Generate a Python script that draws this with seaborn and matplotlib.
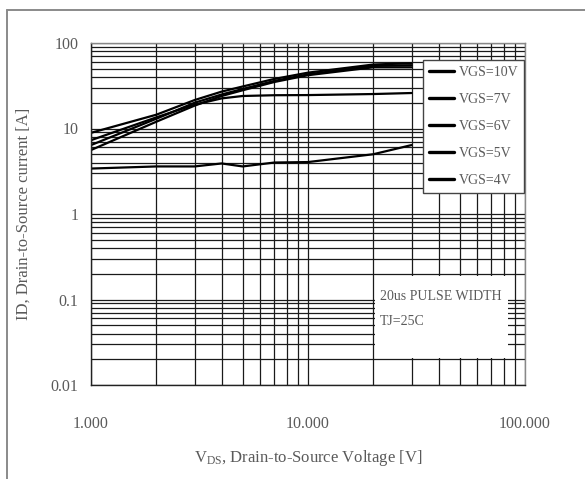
import matplotlib
matplotlib.use("Agg")
import matplotlib.pyplot as plt
from matplotlib.lines import Line2D
from matplotlib.patches import Rectangle
from matplotlib.ticker import FixedLocator, FixedFormatter, LogLocator, NullFormatter
import numpy as np
import pandas as pd
import seaborn as sns

# ---- data ----
vds = [1, 2, 3, 4, 5, 7, 10, 20, 30]
id_10v = [8.9, 14.5, 21.5, 27, 31, 38, 45, 56, 58]
id_7v = [7.3, 13.5, 19, 22.5, 24, 24.5, 24.6, 25.3, 26]
id_6v = [6.4, 13, 20, 25, 29, 36, 43, 54, 55]
id_5v = [5.6, 12, 18.5, 24, 28, 35, 42, 52, 52]
id_4v = [3.4, 3.6, 3.6, 3.9, 3.6, 4.0, 4.05, 5.0, 6.4]
series_labels = ["VGS=10V", "VGS=7V", "VGS=6V", "VGS=5V", "VGS=4V"]
x_ticks = [1, 10, 100]
x_tick_labels = ["1.000", "10.000", "100.000"]
y_ticks = [0.01, 0.1, 1, 10, 100]
y_tick_labels = ["0.01", "0.1", "1", "10", "100"]
note_lines = ["20us PULSE WIDTH", "TJ=25C"]

rows = []
for lab, vals in zip(series_labels, [id_10v, id_7v, id_6v, id_5v, id_4v]):
    for xv, yv in zip(vds, vals):
        rows.append({"VDS": xv, "ID": yv, "VGS": lab})
df = pd.DataFrame(rows)

sns.set_style("white")
plt.rcParams["font.family"] = ["Liberation Serif", "DejaVu Serif"]
plt.rcParams["mathtext.fontset"] = "custom"
plt.rcParams["mathtext.rm"] = "Liberation Serif"
plt.rcParams["mathtext.it"] = "Liberation Serif"

txt_color = "#5a5a5a"

fig = plt.figure(figsize=(5.85, 4.79), dpi=100)
ax = fig.add_axes([91 / 585, 1 - 385 / 479, 434 / 585, 342 / 479])

sns.lineplot(data=df, x="VDS", y="ID", hue="VGS", hue_order=series_labels,
             palette=["black"] * 5, linewidth=1.6, ax=ax, legend=False,
             zorder=2.5)

ax.set_xscale("log")
ax.set_yscale("log")
ax.set_xlim(1, 100)
ax.set_ylim(0.01, 100)

ax.xaxis.set_major_locator(FixedLocator(x_ticks))
ax.xaxis.set_major_formatter(FixedFormatter(x_tick_labels))
ax.yaxis.set_major_locator(FixedLocator(y_ticks))
ax.yaxis.set_major_formatter(FixedFormatter(y_tick_labels))
ax.xaxis.set_minor_locator(LogLocator(base=10, subs=np.arange(2, 10)))
ax.yaxis.set_minor_locator(LogLocator(base=10, subs=np.arange(2, 10)))
ax.xaxis.set_minor_formatter(NullFormatter())
ax.yaxis.set_minor_formatter(NullFormatter())

ax.grid(True, which="both", color="#1a1a1a", linewidth=0.9)
ax.set_axisbelow(True)
ax.tick_params(which="both", length=0)
ax.tick_params(axis="x", pad=22, labelsize=11.5, labelcolor=txt_color)
ax.tick_params(axis="y", pad=9, labelsize=11.5, labelcolor=txt_color)
for s in ax.spines.values():
    s.set_color("#222222")
    s.set_linewidth(1.0)
ax.spines["top"].set_color("#888888")
ax.spines["right"].set_color("#888888")

ax.set_xlabel(r"V$_{\mathrm{DS}}$, Drain-to-Source Voltage [V]", fontsize=12,
              color=txt_color, labelpad=12)
ax.set_ylabel("ID, Drain-to-Source current [A]", fontsize=12,
              color=txt_color, labelpad=14)

# note box
ax.add_patch(Rectangle((0.654, 0.079), 0.307, 0.240, transform=ax.transAxes,
                       facecolor="white", edgecolor="none", zorder=3))
ax.text(0.665, 0.258, note_lines[0], transform=ax.transAxes, fontsize=10,
        color=txt_color, va="center", ha="left", zorder=4)
ax.text(0.665, 0.185, note_lines[1], transform=ax.transAxes, fontsize=10,
        color=txt_color, va="center", ha="left", zorder=4)

# legend
handles = [Line2D([0], [0], color="black", linewidth=2.4) for _ in series_labels]
leg = ax.legend(handles, series_labels, loc="upper left",
                bbox_to_anchor=(0.765, 0.950), borderaxespad=0,
                fontsize=10, handlelength=1.8, handletextpad=0.3,
                labelspacing=1.0, frameon=True, fancybox=False,
                framealpha=1, edgecolor="#444444", borderpad=0.45)
leg.get_frame().set_linewidth(1.0)
for t in leg.get_texts():
    t.set_color(txt_color)

# outer frame (top & left edges)
fig.add_artist(Line2D([7 / 585, 7 / 585], [0, 1 - 10 / 479],
                      transform=fig.transFigure, color="#8a8a8a", linewidth=1.4))
fig.add_artist(Line2D([7 / 585, 1], [1 - 10 / 479, 1 - 10 / 479],
                      transform=fig.transFigure, color="#8a8a8a", linewidth=1.4))

fig.savefig("out.png", dpi=100)
